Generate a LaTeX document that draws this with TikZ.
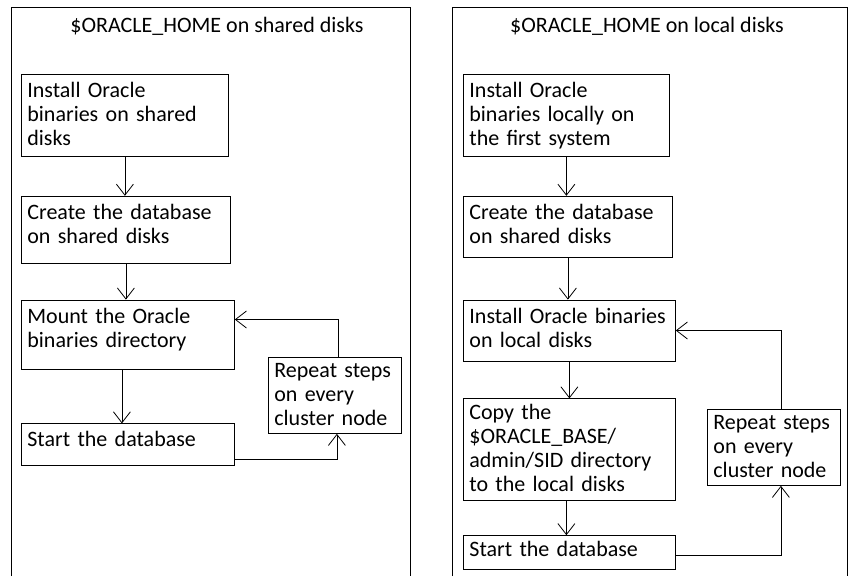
\documentclass[tikz,border=0pt]{standalone}
\usepackage{fontspec}
\setmainfont{Carlito}
\usetikzlibrary{arrows.meta,positioning}

\begin{document}
\begin{tikzpicture}[x=1pt,y=-1pt,line width=0.8pt,
    >={Straight Barb[length=11pt,width=17pt]},
    every node/.style={font=\fontsize{22}{24}\selectfont},
    stepbox/.style={draw,anchor=north west,align=left,
      inner xsep=6pt,inner ysep=0pt,text height=23pt}]
   \useasboundingbox (0,0) rectangle (853,576);
   % $ORACLE_HOME on shared disks
   \draw (11,576) -- (11,7) -- (410,7) -- (410,576);
   \node[anchor=base] (t_l) at (217,32) {\$ORACLE\_HOME on shared disks};
   \node[stepbox,text width=195pt,text depth=59pt] (l_0) at (21,74)
      {Install Oracle\\binaries on shared\\disks};
   \node[stepbox,text width=197pt,text depth=44pt] (l_1)
      [below=39pt of l_0.south west,anchor=north west]
      {Create the database\\on shared disks};
   \node[stepbox,text width=201pt,text depth=46pt] (l_2)
      [below=36pt of l_1.south west,anchor=north west]
      {Mount the Oracle\\binaries directory};
   \node[stepbox,text width=201pt,text depth=19pt] (l_3)
      [below=54pt of l_2.south west,anchor=north west]
      {Start the database};
   \node[stepbox,text width=121pt,text height=20pt,text depth=56pt] (l_r) at (268,357)
      {Repeat steps\\on every\\cluster node};
   \path[->]
    (l_0.south) edge (l_0.south |- l_1.north)
    (l_1.south) edge (l_1.south |- l_2.north)
    ([xshift=-6pt]l_2.south) edge ([xshift=-6pt]l_2.south |- l_3.north);
   \draw[->] ([yshift=-15pt]l_3.east) -| ([xshift=2pt]l_r.south);
   \draw[->] ([xshift=3pt]l_r.north) |- ([yshift=15pt]l_2.east);

   % $ORACLE_HOME on local disks
   \draw (452,576) -- (452,7) -- (847,7) -- (847,576);
   \node[anchor=base] (t_r) at (647,32) {\$ORACLE\_HOME on local disks};
   \node[stepbox,text width=194pt,text depth=59pt] (r_0) at (463,74)
      {Install Oracle\\binaries locally on\\the first system};
   \node[stepbox,text width=197pt,text depth=38pt] (r_1)
      [below=39pt of r_0.south west,anchor=north west]
      {Create the database\\on shared disks};
   \node[stepbox,text width=200pt,text depth=38pt] (r_2)
      [below=42pt of r_1.south west,anchor=north west]
      {Install Oracle binaries\\on local disks};
   \node[stepbox,text width=200pt,text height=21pt,text depth=81pt] (r_3)
      [below=37pt of r_2.south west,anchor=north west]
      {Copy the\\\$ORACLE\_BASE/\\admin/SID directory\\to the local disks};
   \node[stepbox,text width=200pt,text height=21pt,text depth=13pt] (r_4)
      [below=34pt of r_3.south west,anchor=north west]
      {Start the database};
   \node[stepbox,text width=121pt,text height=20pt,text depth=56pt] (r_r) at (707,409)
      {Repeat steps\\on every\\cluster node};
   \path[->]
    (r_0.south) edge (r_0.south |- r_1.north)
    (r_1.south) edge (r_1.south |- r_2.north)
    (r_2.south) edge (r_2.south |- r_3.north)
    ([xshift=-3pt]r_3.south) edge ([xshift=-3pt]r_3.south |- r_4.north);
   \draw[->] ([yshift=-3pt]r_4.east) -| ([xshift=7pt]r_r.south);
   \draw[->] ([xshift=7pt]r_r.north) |- (r_2.east);
\end{tikzpicture}
\end{document}
